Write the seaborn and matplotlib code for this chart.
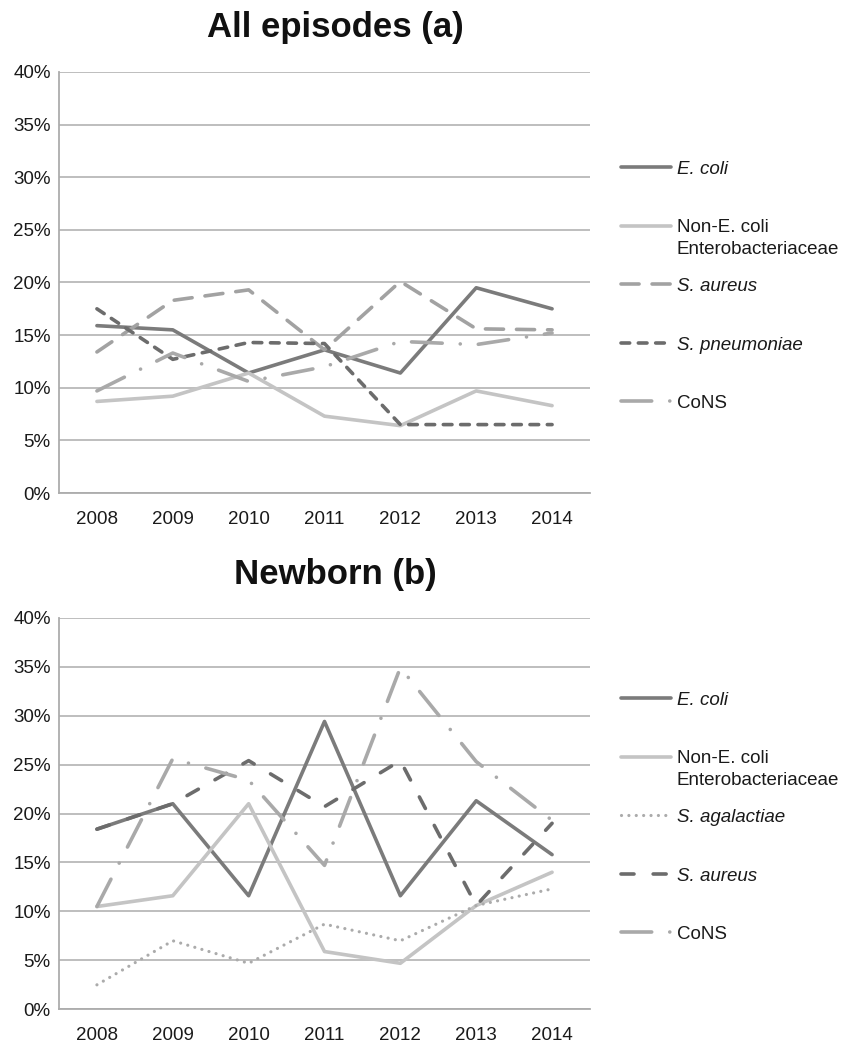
import matplotlib
matplotlib.use("Agg")
import matplotlib.pyplot as plt
from matplotlib.lines import Line2D
from matplotlib.ticker import FuncFormatter
import numpy as np
import pandas as pd
import seaborn as sns

# ---- data (percent of episodes) ----
years = [2008, 2009, 2010, 2011, 2012, 2013, 2014]

all_ecoli = [15.9, 15.5, 11.4, 13.6, 11.4, 19.5, 17.5]
all_non_ecoli = [8.7, 9.2, 11.4, 7.3, 6.4, 9.7, 8.3]
all_saureus = [13.4, 18.3, 19.3, 13.6, 20.1, 15.6, 15.5]
all_spneumoniae = [17.5, 12.7, 14.3, 14.2, 6.5, 6.5, 6.5]
all_cons = [9.7, 13.3, 10.6, 12.0, 14.4, 14.1, 15.2]

nb_ecoli = [18.4, 21.0, 11.6, 29.4, 11.6, 21.3, 15.8]
nb_non_ecoli = [10.5, 11.6, 21.0, 5.9, 4.7, 10.6, 14.0]
nb_sagalactiae = [2.5, 7.0, 4.7, 8.7, 7.0, 10.6, 12.3]
nb_saureus = [18.4, 21.0, 25.4, 20.7, 25.4, 10.6, 19.0]
nb_cons = [10.5, 25.6, 23.4, 14.7, 34.9, 25.3, 19.3]

y_ticks = [0, 5, 10, 15, 20, 25, 30, 35, 40]

title_a = "All episodes (a)"
title_b = "Newborn (b)"

# series name -> (colour, dash pattern in linewidth units, linewidth, italic)
styles_a = {
    "E. coli": ("#7b7b7b", "", 2.6, True),
    "Non-E. coli\nEnterobacteriaceae": ("#c4c4c4", "", 2.6, False),
    "S. aureus": ("#a2a2a2", (5.0, 3.6), 2.6, True),
    "S. pneumoniae": ("#6c6c6c", (2.4, 2.4), 2.6, True),
    "CoNS": ("#a9a9a9", (8.5, 5.0, 0.01, 5.0), 2.6, False),
}
styles_b = {
    "E. coli": ("#7b7b7b", "", 2.6, True),
    "Non-E. coli\nEnterobacteriaceae": ("#c4c4c4", "", 2.6, False),
    "S. agalactiae": ("#ababab", (0.01, 2.3), 2.3, True),
    "S. aureus": ("#6c6c6c", (3.6, 5.3), 2.6, True),
    "CoNS": ("#a9a9a9", (8.5, 5.0, 0.01, 5.0), 2.6, False),
}

series_a = dict(zip(styles_a.keys(),
                    [all_ecoli, all_non_ecoli, all_saureus, all_spneumoniae, all_cons]))
series_b = dict(zip(styles_b.keys(),
                    [nb_ecoli, nb_non_ecoli, nb_sagalactiae, nb_saureus, nb_cons]))

sns.set_theme(style="white")
plt.rcParams["font.family"] = ["Liberation Sans", "DejaVu Sans"]

W, H = 859, 1044
fig = plt.figure(figsize=(W / 100, H / 100), dpi=100)


def px_box(left, top, right, bottom):
    return [left / W, 1 - bottom / H, (right - left) / W, (bottom - top) / H]


def fx(x):
    return x / W


def fy(y):
    return 1 - y / H


GRID = "#acacac"


def draw_panel(box, series, styles, title, title_base, legend_top):
    ax = fig.add_axes(px_box(*box))
    rows = []
    for name, vals in series.items():
        for yr, v in zip(years, vals):
            rows.append({"year": yr, "pct": v, "series": name})
    df = pd.DataFrame(rows)
    for name in series:
        col, dash, lw, _ = styles[name]
        sub = df[df["series"] == name]
        kw = dict(color=col, linewidth=lw, solid_capstyle="round",
                  dash_capstyle="round", solid_joinstyle="round",
                  dash_joinstyle="round")
        line = sns.lineplot(data=sub, x="year", y="pct", ax=ax, legend=False,
                            estimator=None, sort=False, **kw).lines[-1]
        if dash:
            line.set_dashes(dash)

    ax.set_xlim(years[0] - 0.5, years[-1] + 0.5)
    ax.set_ylim(y_ticks[0], y_ticks[-1])
    ax.set_xticks(years)
    ax.set_xticklabels([str(y) for y in years])
    ax.set_yticks(y_ticks)
    ax.yaxis.set_major_formatter(FuncFormatter(lambda v, p: f"{int(v)}%"))
    ax.set_xlabel("")
    ax.set_ylabel("")
    ax.grid(axis="y", color=GRID, linewidth=1.1)
    ax.set_axisbelow(True)
    for s in ["top", "right"]:
        ax.spines[s].set_visible(False)
    for s in ["left", "bottom"]:
        ax.spines[s].set_color(GRID)
        ax.spines[s].set_linewidth(1.3)
    ax.tick_params(axis="both", length=0, labelsize=13.5, colors="#1a1a1a")
    ax.tick_params(axis="y", pad=6)
    ax.tick_params(axis="x", pad=13)

    fig.text(fx(335), fy(title_base), title, ha="center", va="baseline",
             fontsize=25, fontweight="bold", color="#111111")

    # legend: handle aligned with the first text line of each entry
    for i, name in enumerate(series):
        col, dash, lw, italic = styles[name]
        yc = legend_top + 58.6 * i
        ln = Line2D([fx(621), fx(671)], [fy(yc), fy(yc)], transform=fig.transFigure,
                    color=col, linewidth=lw, solid_capstyle="round",
                    dash_capstyle="round")
        if dash:
            ln.set_dashes(dash)
        fig.add_artist(ln)
        for k, part in enumerate(name.split("\n")):
            fig.text(fx(677), fy(yc + 6.8 + 22 * k), part, ha="left", va="baseline",
                     fontsize=13.5, style="italic" if italic else "normal",
                     color="#1a1a1a")
    return ax


draw_panel((59, 72, 590, 493), series_a, styles_a, title_a, 37, 167)
draw_panel((59, 617.7, 590, 1009.3), series_b, styles_b, title_b, 584, 698)

fig.savefig("out.png", dpi=100, facecolor="white")
